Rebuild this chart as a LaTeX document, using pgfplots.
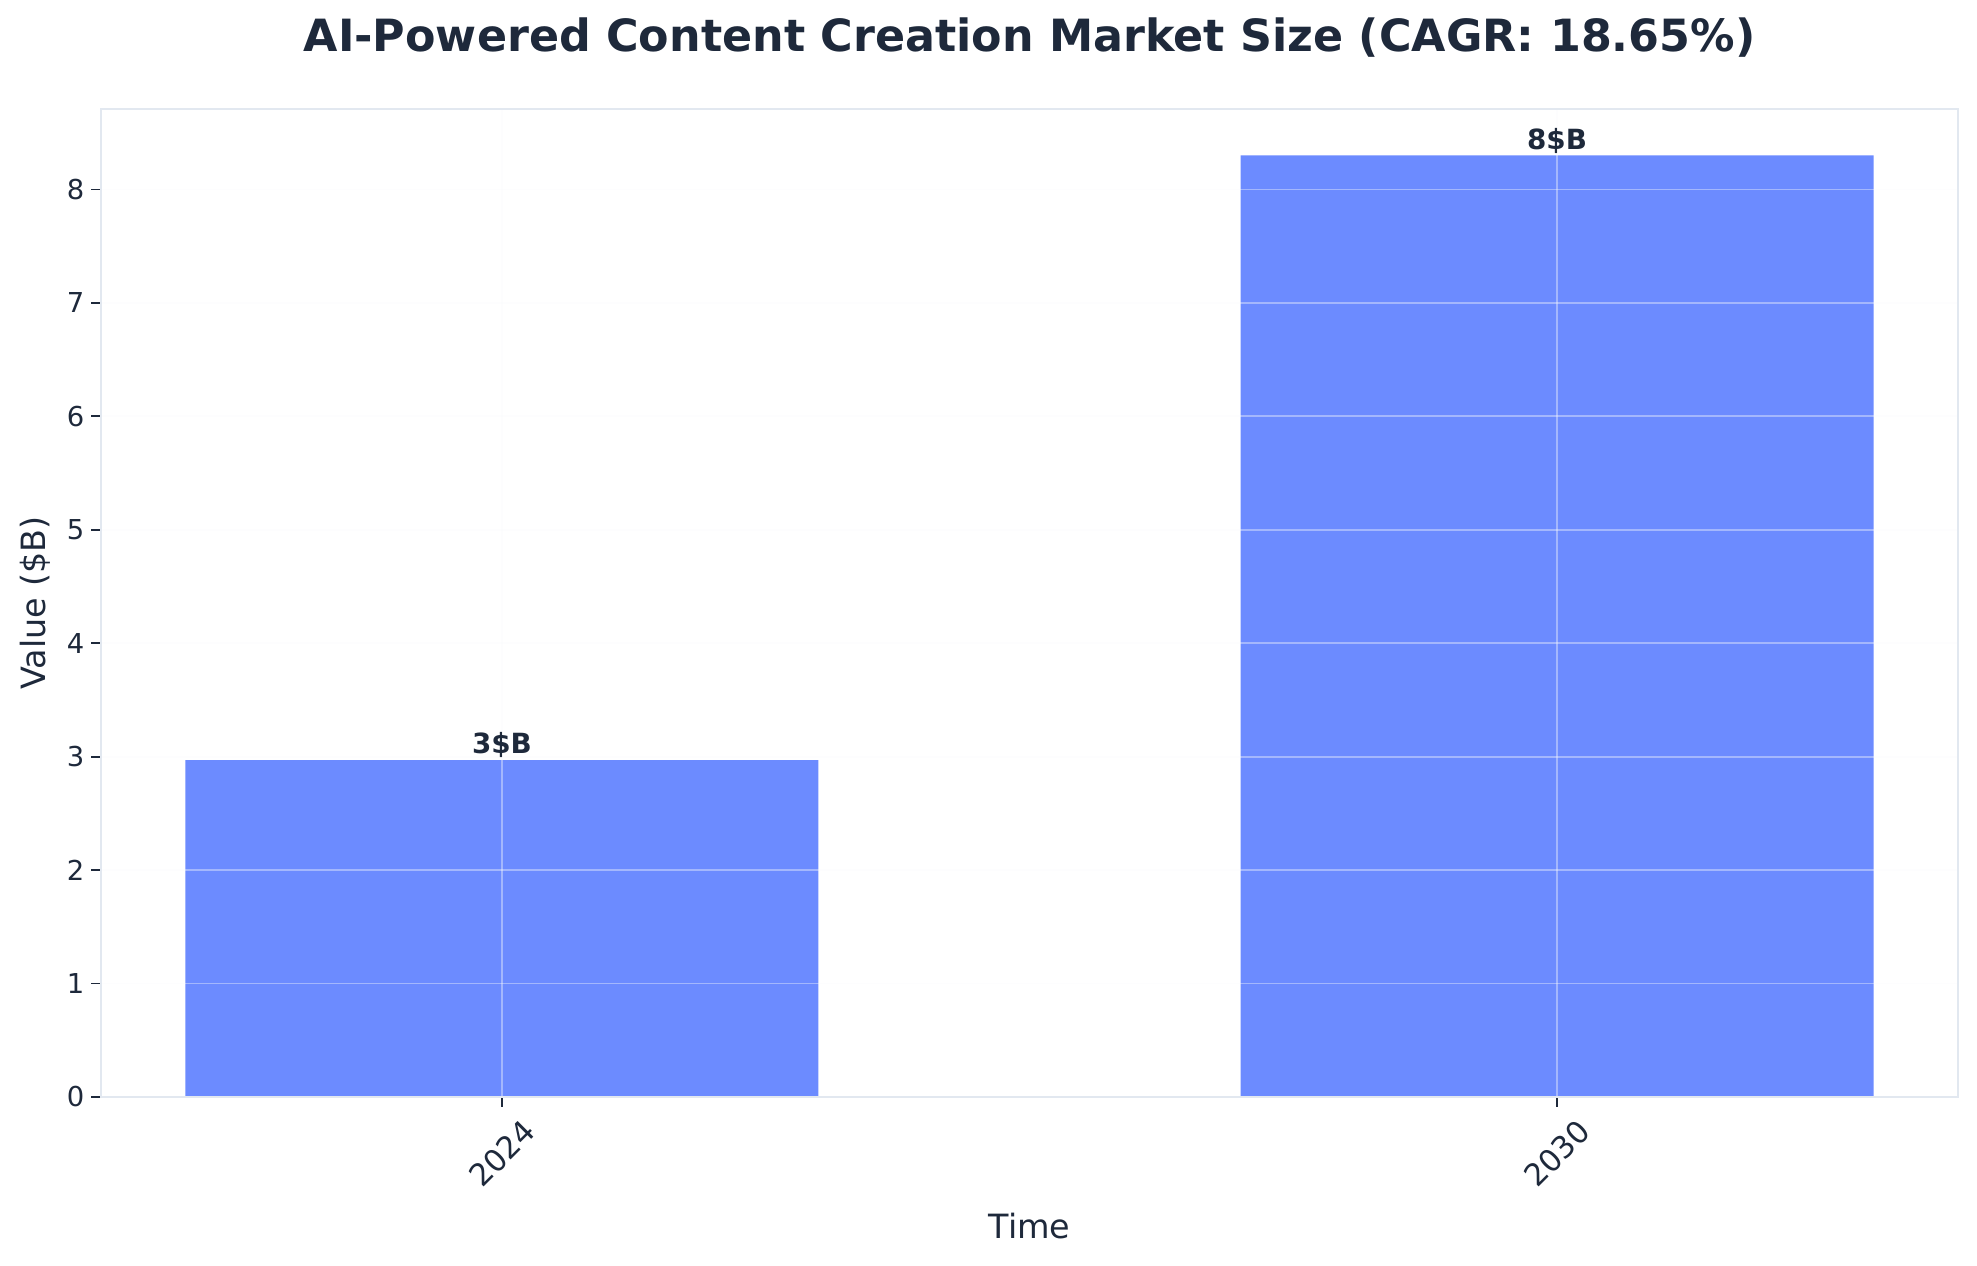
\documentclass[border=0pt]{standalone}
\usepackage{pgfplots}
\pgfplotsset{compat=1.18}
\usepackage{fontspec}
\setmainfont{DejaVu Sans}

\definecolor{barblue}{HTML}{6C8BFF}
\definecolor{inkdark}{HTML}{1E293B}
\definecolor{spine}{HTML}{E2E8F0}

\begin{document}
\begin{tikzpicture}
	% page size: 988.5pt x 632.5pt (0.5pt per reference pixel)
	\useasboundingbox (-50.5pt,-84pt) rectangle (938pt,548.5pt);

	\begin{axis}[
		at={(0pt,0pt)}, anchor=south west,
		scale only axis,
		width=928.5pt, height=494pt,
		xmin=-0.38, xmax=1.38,
		ymin=0, ymax=8.71,
		xtick={0,1},
		xticklabels={\rotatebox{45}{2024},\rotatebox{45}{2030}},
		ytick={0,1,...,8},
		xtick pos=bottom, ytick pos=left,
		axis on top,
		axis line style={spine, line width=1.2pt},
		tick align=outside,
		major tick length=4.8pt,
		tick style={inkdark, line width=0.9pt},
		xmajorgrids, ymajorgrids,
		grid style={white!80!spine, line width=0.9pt, opacity=0.4},
		/pgf/number format/assume math mode=true,
		ticklabel style={font=\fontsize{13.7}{16}\selectfont, text=inkdark},
		xticklabel style={font=\fontsize{15.3}{18}\selectfont, anchor=north, yshift=-2pt},
		xlabel={Time},
		ylabel={Value (\$B)},
		label style={font=\fontsize{16.7}{20}\selectfont, text=inkdark},
		xlabel style={at={(axis description cs:0.5,0)}, anchor=center, yshift=-64.5pt},
		ylabel style={at={(axis description cs:0,0.5)}, anchor=center, rotate=0, yshift=33pt},
		title={AI-Powered Content Creation Market Size (CAGR: 18.65\%)},
		title style={font=\fontsize{22.2}{26}\selectfont\bfseries, text=inkdark,
			at={(axis description cs:0.5,1)}, anchor=center, yshift=29.5pt},
		ybar, bar width=0.6,
		nodes near coords={\pgfmathprintnumber[fixed,precision=0]{\pgfplotspointmeta}\$B},
		nodes near coords style={font=\fontsize{13.9}{16}\selectfont\bfseries, text=inkdark, anchor=south, inner sep=1pt},
	]
	\addplot[fill=barblue, draw=none] coordinates {
		(0, 2.97)
		(1, 8.30)
	};
	\end{axis}
\end{tikzpicture}
\end{document}
